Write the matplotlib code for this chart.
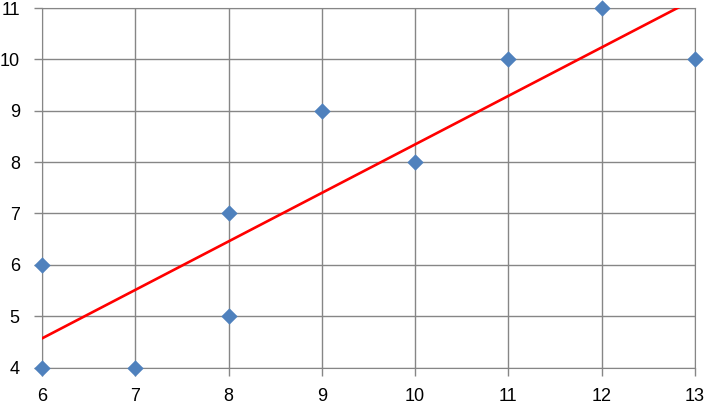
import numpy as np
import matplotlib.pyplot as plt

# Data
x_vals = [6, 6, 7, 8, 8, 9, 10, 11, 12, 13]
y_vals = [6, 4, 4, 7, 5, 9, 8, 10, 11, 10]
x_ticks = [6, 7, 8, 9, 10, 11, 12, 13]
y_ticks = [4, 5, 6, 7, 8, 9, 10, 11]

plt.rcParams.update({'font.size': 13, 'font.family': ['Liberation Sans', 'DejaVu Sans']})
fig = plt.figure(figsize=[7.08, 4.07], dpi=100)
ax = fig.add_axes([0.0593, 0.097, 0.9223, 0.8833])

# linear trend line (least squares fit of the points)
slope, icpt = np.polyfit(x_vals, y_vals, 1)
xl = np.array([x_ticks[0], x_ticks[-1]])
ax.plot(xl, slope * xl + icpt, color='#FF0000', lw=1.9, zorder=3)

ax.scatter(x_vals, y_vals, marker='D', s=70, color='#4F81BD', zorder=4, clip_on=False,
           linewidths=0)

ax.set_xlim(x_ticks[0], x_ticks[-1])
ax.set_ylim(y_ticks[0], y_ticks[-1])
ax.set_xticks(x_ticks)
ax.set_yticks(y_ticks)
ax.grid(True, color='#868686', lw=1)
for s in ax.spines.values():
    s.set_color('#868686')
ax.tick_params(colors='#868686', labelcolor='black', length=6, width=1)
ax.tick_params(axis='x', pad=9)
ax.tick_params(axis='y', pad=10)

plt.savefig('out.png', facecolor='w')
